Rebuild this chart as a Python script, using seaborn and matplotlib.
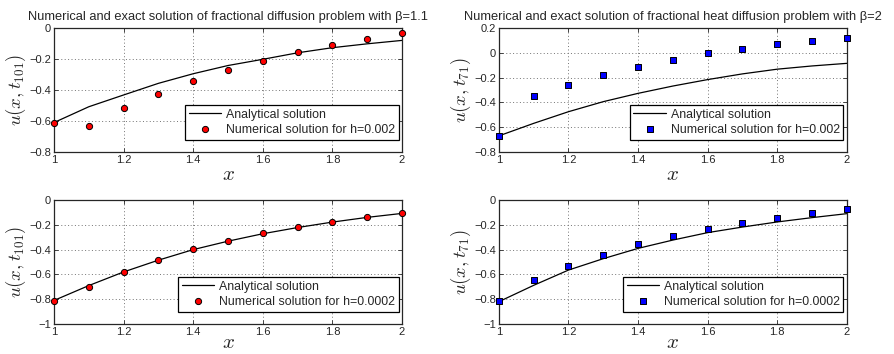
import numpy as np
import pandas as pd
import matplotlib
matplotlib.use("Agg")
import matplotlib.pyplot as plt
import seaborn as sns

# grid points
x = [1.0, 1.1, 1.2, 1.3, 1.4, 1.5, 1.6, 1.7, 1.8, 1.9, 2.0]

# beta = 1.1, h = 0.002
exact_b11 = [-0.61, -0.508, -0.432, -0.357, -0.295, -0.242, -0.202, -0.160, -0.127, -0.102, -0.080]
num_b11_h1 = [-0.613, -0.630, -0.518, -0.424, -0.342, -0.271, -0.211, -0.157, -0.110, -0.069, -0.032]

# beta = 2, h = 0.002
exact_b2 = [-0.67, -0.569, -0.475, -0.394, -0.327, -0.268, -0.216, -0.170, -0.132, -0.106, -0.085]
num_b2_h1 = [-0.668, -0.348, -0.257, -0.177, -0.112, -0.055, -0.004, 0.033, 0.071, 0.098, 0.122]

# beta = 1.1, h = 0.0002
exact_b11_h2 = [-0.81, -0.69, -0.58, -0.485, -0.400, -0.332, -0.272, -0.222, -0.178, -0.140, -0.108]
num_b11_h2 = [-0.812, -0.699, -0.578, -0.484, -0.398, -0.331, -0.269, -0.220, -0.175, -0.137, -0.105]

# beta = 2, h = 0.0002
exact_b2_h2 = [-0.82, -0.688, -0.565, -0.473, -0.390, -0.323, -0.263, -0.218, -0.177, -0.142, -0.110]
num_b2_h2 = [-0.812, -0.648, -0.535, -0.441, -0.358, -0.293, -0.234, -0.185, -0.142, -0.108, -0.075]

titles = ["Numerical and exact solution of fractional diffusion problem with \u03b2=1.1",
          "Numerical and exact solution of fractional heat diffusion problem with \u03b2=2"]

sns.set_style("ticks")
plt.rcParams['font.family'] = ['Liberation Sans', 'DejaVu Sans']
plt.rcParams['mathtext.fontset'] = 'cm'
plt.rcParams['xtick.direction'] = 'in'
plt.rcParams['ytick.direction'] = 'in'

fig = plt.figure(figsize=(8.94, 3.54), dpi=100)

panels = [
    # left, bottom, exact, numerical, color, marker, h, ylabel, ylim, yticks, title
    (0.0604, 0.5706, exact_b11, num_b11_h1, 'red', 'o', '0.002', r'$u(x,t_{101})$', (-0.8, 0), [-0.8, -0.6, -0.4, -0.2, 0], titles[0]),
    (0.558, 0.5706, exact_b2, num_b2_h1, 'blue', 's', '0.002', r'$u(x,t_{71})$', (-0.8, 0.2), [-0.8, -0.6, -0.4, -0.2, 0, 0.2], titles[1]),
    (0.0604, 0.0847, exact_b11_h2, num_b11_h2, 'red', 'o', '0.0002', r'$u(x,t_{101})$', (-1, 0), [-1, -0.8, -0.6, -0.4, -0.2, 0], None),
    (0.558, 0.0847, exact_b2_h2, num_b2_h2, 'blue', 's', '0.0002', r'$u(x,t_{71})$', (-1, 0), [-1, -0.8, -0.6, -0.4, -0.2, 0], None),
]

for left, bottom, ex, num, col, mk, h, ylab, ylim, yt, title in panels:
    ax = fig.add_axes([left, bottom, 0.3893, 0.3503])
    df = pd.DataFrame({'x': x, 'exact': ex, 'num': num})
    sns.lineplot(data=df, x='x', y='exact', ax=ax, color='black', lw=0.9,
                 label='Analytical solution')
    sns.scatterplot(data=df, x='x', y='num', ax=ax, color=col, marker=mk,
                    s=20 if mk == 'o' else 17, edgecolor='black', linewidth=0.7,
                    label='Numerical solution for h=' + h, zorder=5, clip_on=False)
    ax.set_xlim(1, 2)
    ax.set_ylim(*ylim)
    ax.set_xticks([1, 1.2, 1.4, 1.6, 1.8, 2])
    ax.set_xticklabels(['1', '1.2', '1.4', '1.6', '1.8', '2'])
    ax.set_yticks(yt)
    ax.set_yticklabels([('%g' % v).replace('-', '\u2212') for v in yt])
    ax.tick_params(labelsize=8, length=3, width=0.6, top=True, right=True, pad=2)
    ax.grid(True, ls=(0, (1, 2.5)), color='0.45', lw=0.7)
    for sp in ax.spines.values():
        sp.set_linewidth(0.9)
    ax.set_xlabel(r'$x$', fontsize=15, labelpad=0 if title else -3)
    ax.set_ylabel(ylab, fontsize=13.5, labelpad=1)
    if title:
        ax.set_title(title, fontsize=9.3, pad=6)
    leg = ax.legend(loc='lower right', bbox_to_anchor=(0.99, 0.1), fontsize=8.9,
                    fancybox=False, framealpha=1, edgecolor='black',
                    borderpad=0.3, handlelength=2.6, labelspacing=0.25,
                    handletextpad=0.4, borderaxespad=0,
                    scatterpoints=1, scatteryoffsets=[0.5])
    leg.get_frame().set_linewidth(0.9)

fig.savefig('out.png', dpi=100)
